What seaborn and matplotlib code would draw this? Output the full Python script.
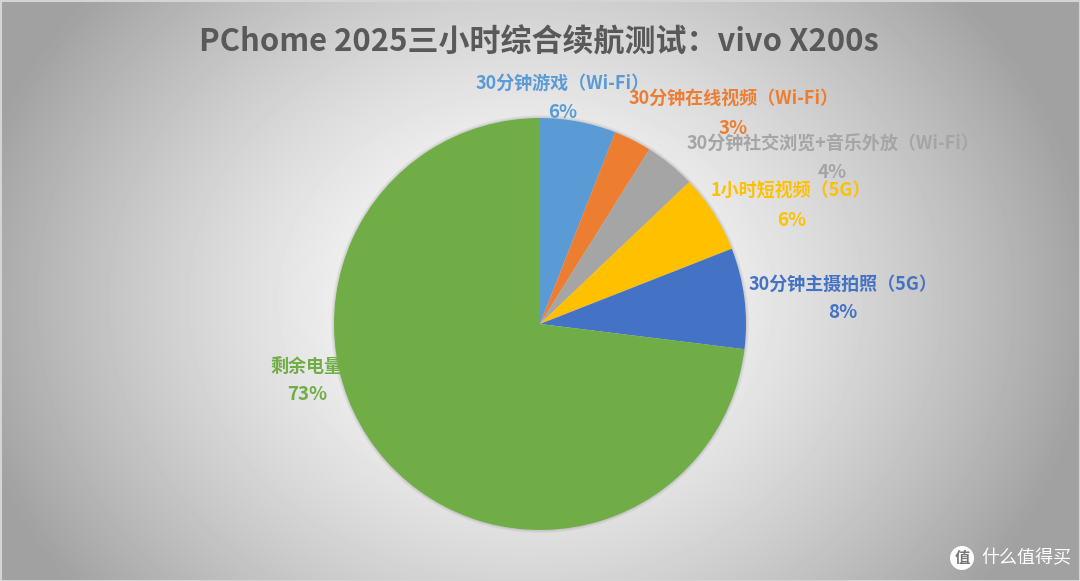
import numpy as np
import matplotlib
matplotlib.use("Agg")
import matplotlib.pyplot as plt
from matplotlib.patches import Circle, Rectangle
import seaborn as sns

categories = ["30分钟游戏（Wi-Fi）", "30分钟在线视频（Wi-Fi）", "30分钟社交浏览+音乐外放（Wi-Fi）",
              "1小时短视频（5G）", "30分钟主摄拍照（5G）", "剩余电量"]
shares = [5.95, 2.95, 4.0, 6.15, 7.9, 73.05]
percent_labels = ["6%", "3%", "4%", "6%", "8%", "73%"]
colors = ["#5B9BD5", "#ED7D31", "#A5A5A5", "#FFC000", "#4472C4", "#70AD47"]
title = "PChome 2025三小时综合续航测试：vivo X200s"

sns.set_theme(style="white")
plt.rcParams["font.family"] = ["Noto Sans CJK SC", "DejaVu Sans"]

W, H = 1080, 581
fig = plt.figure(figsize=(W / 100, H / 100), dpi=100)

# page in pixel coordinates, with the grey gradient behind everything
bg = fig.add_axes([0, 0, 1, 1])
bg.set_xlim(0, W)
bg.set_ylim(H, 0)
bg.axis("off")
yy, xx = np.mgrid[0:H, 0:W]
dist = np.hypot((xx - 525) / 620, (yy - 300) / 520)
shade = np.clip(1.0 - 0.42 * dist ** 1.5, 0.63, 1)
bg.imshow(shade, cmap="gray", vmin=0, vmax=1, extent=(0, W, H, 0), aspect="auto", zorder=0)
bg.add_patch(Rectangle((0.5, 0.5), W - 1, H - 1, fill=False, ec="#d4d4d4", lw=1.5, zorder=1))

# pie
cx, cy, r = 540, 324, 206
ax = fig.add_axes([(cx - r) / W, 1 - (cy + r) / H, 2 * r / W, 2 * r / H])
ax.patch.set_alpha(0)
for k in range(5, 0, -1):
    ax.add_patch(Circle((0, 0), 1 + k * 0.003, color="black", alpha=0.025, lw=0, clip_on=False))
ax.pie(shares, colors=colors, startangle=90, counterclock=False, radius=1,
       wedgeprops={"linewidth": 0}, frame=True)
ax.set_xlim(-1, 1)
ax.set_ylim(-1, 1)
ax.axis("off")

# labels sit on their own layer so they can overlap the pie
top = fig.add_axes([0, 0, 1, 1])
top.set_xlim(0, W)
top.set_ylim(H, 0)
top.axis("off")
name_pos = [(563, 83), (734, 99), (833, 144), (791, 191), (843, 284), (306, 366)]
pct_pos = [(563, 112), (733, 128), (832, 173), (792, 220), (843, 313), (307, 395)]
for i in range(len(categories)):
    top.text(name_pos[i][0], name_pos[i][1], categories[i], color=colors[i], fontsize=13,
             fontweight="bold", ha="center", va="center")
    top.text(pct_pos[i][0], pct_pos[i][1], percent_labels[i], color=colors[i], fontsize=13.5,
             fontweight="bold", ha="center", va="center")

top.text(539, 43, title, color="#595959", fontsize=22.3, fontweight="bold", ha="center", va="center")

# watermark
top.add_patch(Circle((962, 558), 12, color="white", lw=0))
top.text(962, 558, "值", color="#777777", fontsize=11, fontweight="bold", ha="center", va="center")
top.text(1026, 558, "什么值得买", color="white", fontsize=13, ha="center", va="center")

fig.savefig("out.png", dpi=100)
